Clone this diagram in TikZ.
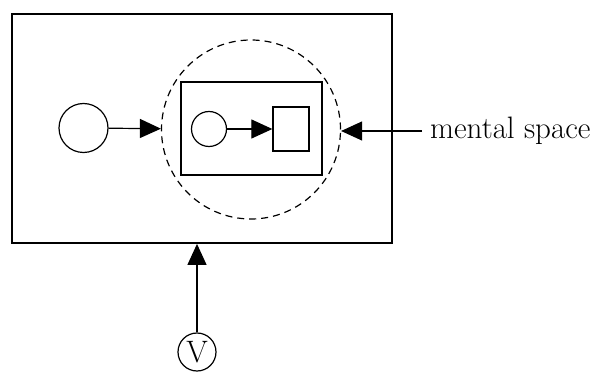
\documentclass[tikz,border=0pt]{standalone}
\usepackage{tikz}
\usetikzlibrary{arrows.meta, positioning}

\begin{document}
\begin{tikzpicture}[
  x=1pt, y=-1pt,
  frame/.style={draw, line width=1.8pt, minimum width=380pt, minimum height=229pt, inner sep=0pt},
  space/.style={draw, circle, dash pattern=on 7pt off 5pt, line width=1.2pt, minimum size=179pt, inner sep=0pt},
  box/.style={draw, line width=1.3pt, inner sep=0pt},
  ent/.style={draw, circle, line width=1.2pt, inner sep=0pt},
  txt/.style={font=\fontsize{31}{33}\selectfont},
  arr/.style={-{Triangle[length=21pt, width=19pt]}, line width=1.2pt}
]
  \useasboundingbox (0,0) rectangle (595,374);

  \node[frame] (world) at (202,128.5) {};
  \node[space] (ms) at (251,129.5) {};
  \node[box, minimum width=141pt, minimum height=93pt] (inner) at (251.5,128.5) {};
  \node[ent, minimum size=49pt] (lc) at (83.5,128) {};
  \node[ent, minimum size=35pt] (sc) at (209,129) {};
  \node[box, minimum width=36pt, minimum height=44pt] (sq) at (291,129) {};
  \node[txt, anchor=west, inner xsep=8pt, inner ysep=0pt] (label) at (422,131) {mental space};
  \node[ent, txt, minimum size=38pt] (v) at (197,352) {V};

  \draw[arr] (lc) -- (ms);
  \draw[arr] (sc) -- (sq);
  \draw[arr] (label.west) -- (ms.east |- label.west);
  \draw[arr] (v.north) -- (v.north |- world.south);
\end{tikzpicture}
\end{document}
